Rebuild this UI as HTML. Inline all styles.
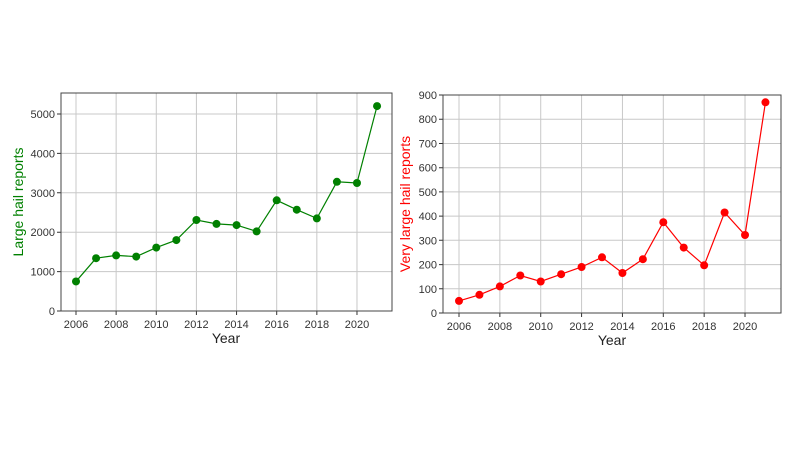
<!DOCTYPE html>
<html><head><style>body{margin:0;background:#fff}svg{display:block}</style></head><body>
<svg width="800" height="449" xmlns="http://www.w3.org/2000/svg" font-family="Liberation Sans, DejaVu Sans, sans-serif">
<rect width="800" height="449" fill="#fff"/>
<!-- LEFT -->
<g stroke="#c8c8c8" stroke-width="1">
<path d="M76 93V311M116.14 93V311M156.28 93V311M196.42 93V311M236.56 93V311M276.7 93V311M316.84 93V311M356.98 93V311"/>
<path d="M61 271.6H392M61 232.2H392M61 192.8H392M61 153.4H392M61 114H392"/>
</g>
<g stroke="#333" stroke-width="1">
<path d="M76 311v4M116.14 311v4M156.28 311v4M196.42 311v4M236.56 311v4M276.7 311v4M316.84 311v4M356.98 311v4"/>
<path d="M57 311h4M57 271.6h4M57 232.2h4M57 192.8h4M57 153.4h4M57 114h4"/>
</g>
<rect x="61" y="93" width="331" height="218" fill="none" stroke="#444"/>
<g font-size="11" fill="#333" text-anchor="middle">
<text x="76" y="328">2006</text><text x="116.14" y="328">2008</text><text x="156.28" y="328">2010</text><text x="196.42" y="328">2012</text><text x="236.56" y="328">2014</text><text x="276.7" y="328">2016</text><text x="316.84" y="328">2018</text><text x="356.98" y="328">2020</text>
</g>
<g font-size="11" fill="#333" text-anchor="end">
<text x="55" y="315">0</text><text x="55" y="275.6">1000</text><text x="55" y="236.2">2000</text><text x="55" y="196.8">3000</text><text x="55" y="157.4">4000</text><text x="55" y="118">5000</text>
</g>
<polyline fill="none" stroke="#008000" stroke-width="1.2" points="76,281.45 96.07,258.2 116.14,255.4 136.21,256.6 156.28,247.6 176.35,240.1 196.42,220 216.49,223.9 236.56,225.1 256.63,231.4 276.7,200.3 296.77,209.7 316.84,218.4 336.91,181.8 356.98,183 377.05,106.1"/>
<g fill="#008000">
<circle cx="76" cy="281.45" r="4"/><circle cx="96.07" cy="258.2" r="4"/><circle cx="116.14" cy="255.4" r="4"/><circle cx="136.21" cy="256.6" r="4"/><circle cx="156.28" cy="247.6" r="4"/><circle cx="176.35" cy="240.1" r="4"/><circle cx="196.42" cy="220" r="4"/><circle cx="216.49" cy="223.9" r="4"/><circle cx="236.56" cy="225.1" r="4"/><circle cx="256.63" cy="231.4" r="4"/><circle cx="276.7" cy="200.3" r="4"/><circle cx="296.77" cy="209.7" r="4"/><circle cx="316.84" cy="218.4" r="4"/><circle cx="336.91" cy="181.8" r="4"/><circle cx="356.98" cy="183" r="4"/><circle cx="377.05" cy="106.1" r="4"/>
</g>
<text x="226" y="343" font-size="14" fill="#222" text-anchor="middle">Year</text>
<text transform="translate(23,202) rotate(-90)" font-size="14" fill="#008000" text-anchor="middle">Large hail reports</text>

<!-- RIGHT -->
<g stroke="#c8c8c8" stroke-width="1">
<path d="M459 95V313M499.86 95V313M540.72 95V313M581.58 95V313M622.44 95V313M663.3 95V313M704.16 95V313M745.02 95V313"/>
<path d="M443 288.8H781M443 264.6H781M443 240.3H781M443 216.1H781M443 191.9H781M443 167.7H781M443 143.5H781M443 119.2H781"/>
</g>
<g stroke="#333" stroke-width="1">
<path d="M459 313v4M499.86 313v4M540.72 313v4M581.58 313v4M622.44 313v4M663.3 313v4M704.16 313v4M745.02 313v4"/>
<path d="M439 313h4M439 288.8h4M439 264.6h4M439 240.3h4M439 216.1h4M439 191.9h4M439 167.7h4M439 143.5h4M439 119.2h4M439 95h4"/>
</g>
<rect x="443" y="95" width="338" height="218" fill="none" stroke="#444"/>
<g font-size="11" fill="#333" text-anchor="middle">
<text x="459" y="330">2006</text><text x="499.86" y="330">2008</text><text x="540.72" y="330">2010</text><text x="581.58" y="330">2012</text><text x="622.44" y="330">2014</text><text x="663.3" y="330">2016</text><text x="704.16" y="330">2018</text><text x="745.02" y="330">2020</text>
</g>
<g font-size="11" fill="#333" text-anchor="end">
<text x="437" y="317">0</text><text x="437" y="292.8">100</text><text x="437" y="268.6">200</text><text x="437" y="244.3">300</text><text x="437" y="220.1">400</text><text x="437" y="195.9">500</text><text x="437" y="171.7">600</text><text x="437" y="147.5">700</text><text x="437" y="123.2">800</text><text x="437" y="99">900</text>
</g>
<polyline fill="none" stroke="#ff0000" stroke-width="1.2" points="459,300.9 479.43,294.8 499.86,286.4 520.29,275.5 540.72,281.5 561.15,274.2 581.58,267 602.01,257.3 622.44,273 642.87,259.2 663.3,222.2 683.73,247.6 704.16,265.3 724.59,212.5 745.02,235 765.45,102.3"/>
<g fill="#ff0000">
<circle cx="459" cy="300.9" r="4"/><circle cx="479.43" cy="294.8" r="4"/><circle cx="499.86" cy="286.4" r="4"/><circle cx="520.29" cy="275.5" r="4"/><circle cx="540.72" cy="281.5" r="4"/><circle cx="561.15" cy="274.2" r="4"/><circle cx="581.58" cy="267" r="4"/><circle cx="602.01" cy="257.3" r="4"/><circle cx="622.44" cy="273" r="4"/><circle cx="642.87" cy="259.2" r="4"/><circle cx="663.3" cy="222.2" r="4"/><circle cx="683.73" cy="247.6" r="4"/><circle cx="704.16" cy="265.3" r="4"/><circle cx="724.59" cy="212.5" r="4"/><circle cx="745.02" cy="235" r="4"/><circle cx="765.45" cy="102.3" r="4"/>
</g>
<text x="612" y="345" font-size="14" fill="#222" text-anchor="middle">Year</text>
<text transform="translate(410,204) rotate(-90)" font-size="14" fill="#ff0000" text-anchor="middle">Very large hail reports</text>
</svg>
</body></html>
